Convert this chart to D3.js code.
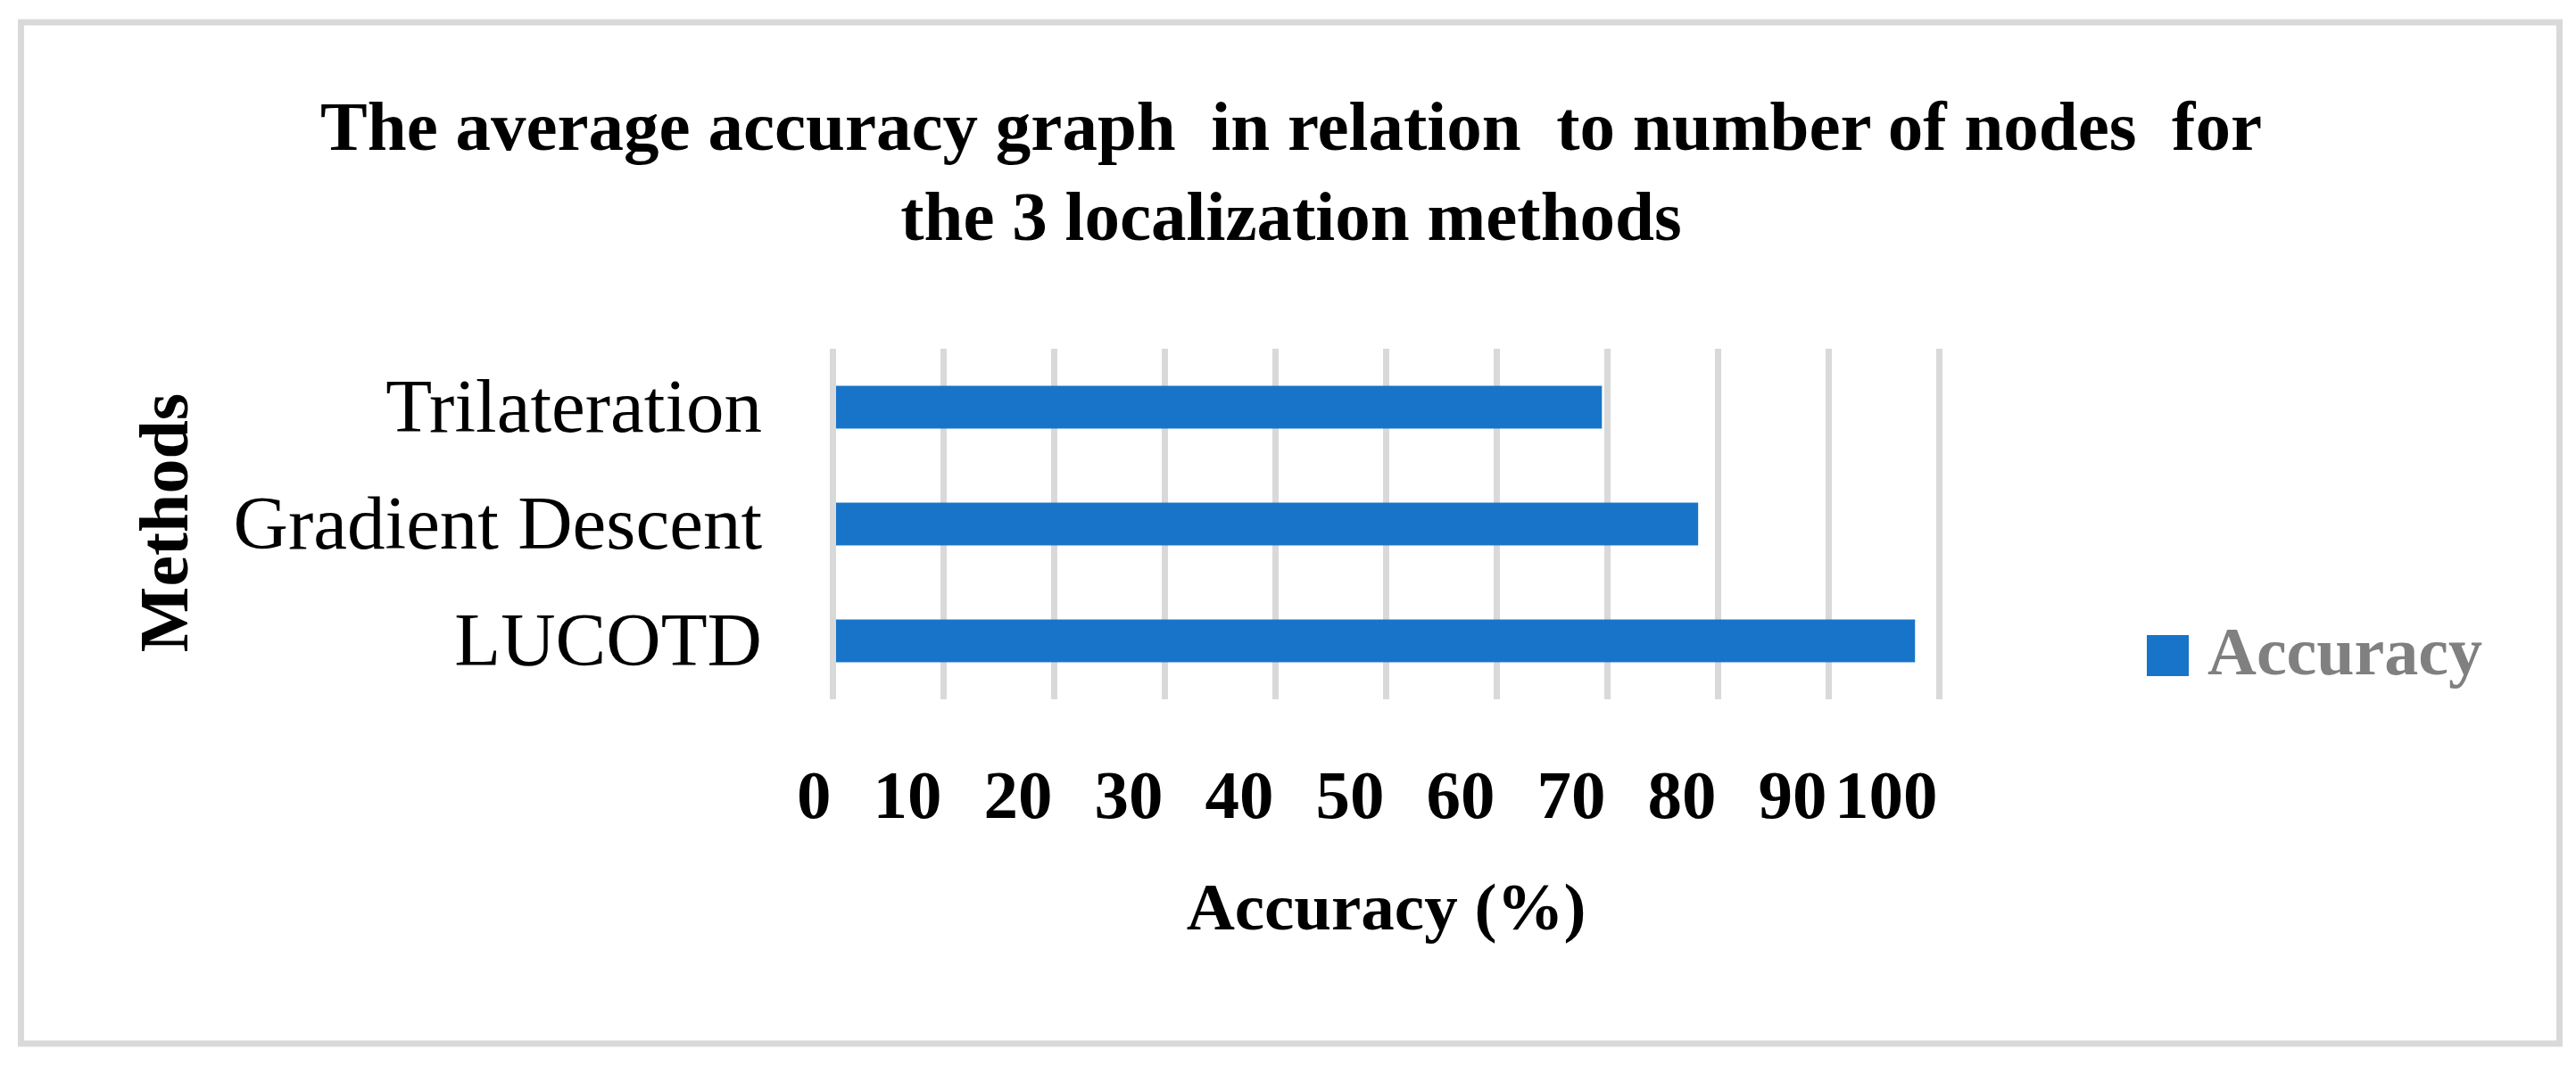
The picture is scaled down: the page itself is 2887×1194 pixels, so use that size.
<!DOCTYPE html>
<html>
<head>
<meta charset="utf-8">
<script src="https://cdn.jsdelivr.net/npm/d3@7"></script>
<style>
  html, body { margin: 0; padding: 0; background: #ffffff; }
  svg { display: block; }
  text { font-family: "Liberation Serif", "Times New Roman", serif; white-space: pre; }
</style>
</head>
<body>
<script>
// ---- Data ----
const categories = ["Trilateration", "Gradient Descent", "LUCOTD"];
const accuracy = [69.5, 78.2, 97.8];
const xTicks = [0, 10, 20, 30, 40, 50, 60, 70, 80, 90, 100];
const xTickLabels = ["0", "10", "20", "30", "40", "50", "60", "70", "80", "90", "100"];
const titleLines = ["The average accuracy graph  in relation  to number of nodes  for", "the 3 localization methods"];
const xAxisTitle = "Accuracy (%)";
const yAxisTitle = "Methods";
const seriesName = "Accuracy";

// ---- Layout ----
const W = 2887, H = 1194;
const barColor = "#1874c9";
const gridColor = "#d9d9d9";

const svg = d3.select("body").append("svg")
  .attr("width", W).attr("height", H);

svg.append("rect")
  .attr("x", 0).attr("y", 0).attr("width", W).attr("height", H)
  .attr("fill", "#ffffff");

// outer border
svg.append("rect")
  .attr("x", 23.5).attr("y", 25).attr("width", 2845).attr("height", 1145)
  .attr("fill", "none").attr("stroke", gridColor).attr("stroke-width", 7);

const plotTop = 391, plotBottom = 784;
const x = d3.scaleLinear().domain([0, 100]).range([933.5, 2173.5]);
const y = d3.scaleBand().domain(categories).range([plotTop, plotBottom])
  .paddingInner(0.634).paddingOuter(0.317);

// gridlines
svg.append("g").selectAll("line").data(xTicks).join("line")
  .attr("x1", d => x(d)).attr("x2", d => x(d))
  .attr("y1", plotTop).attr("y2", plotBottom)
  .attr("stroke", gridColor).attr("stroke-width", 7);

// bars
svg.append("g").selectAll("rect").data(categories).join("rect")
  .attr("x", x(0) + 3.5)
  .attr("y", d => y(d))
  .attr("width", (d, i) => x(accuracy[i]) - x(0) - 3.5)
  .attr("height", y.bandwidth())
  .attr("fill", barColor);

// x tick labels (right-aligned to gridlines, like the original)
svg.append("g").selectAll("text").data(xTicks).join("text")
  .attr("x", d => x(d) - 2)
  .attr("y", 917)
  .attr("text-anchor", "end")
  .attr("font-weight", "bold")
  .attr("font-size", 77)
  .attr("fill", "#000")
  .text((d, i) => xTickLabels[i]);

// category labels
svg.append("g").selectAll("text").data(categories).join("text")
  .attr("x", 854)
  .attr("y", d => y(d) + y.bandwidth() / 2 + 27)
  .attr("text-anchor", "end")
  .attr("font-size", 85)
  .attr("fill", "#000")
  .text(d => d);

// x axis title
svg.append("text")
  .attr("x", (x(0) + x(100)) / 2)
  .attr("y", 1042)
  .attr("text-anchor", "middle")
  .attr("font-weight", "bold")
  .attr("font-size", 75)
  .attr("fill", "#000")
  .text(xAxisTitle);

// y axis title
svg.append("text")
  .attr("transform", "translate(210,586) rotate(-90)")
  .attr("text-anchor", "middle")
  .attr("font-weight", "bold")
  .attr("font-size", 78)
  .attr("fill", "#000")
  .text(yAxisTitle);

// title
svg.append("g").selectAll("text").data(titleLines).join("text")
  .attr("x", 1447)
  .attr("y", (d, i) => 168 + i * 101)
  .attr("text-anchor", "middle")
  .attr("font-weight", "bold")
  .attr("font-size", 79)
  .attr("fill", "#000")
  .text(d => d);

// legend
const legend = svg.append("g");
legend.append("rect")
  .attr("x", 2406).attr("y", 712).attr("width", 47).attr("height", 46)
  .attr("fill", barColor);
legend.append("text")
  .attr("x", 2474).attr("y", 756)
  .attr("font-weight", "bold")
  .attr("font-size", 76)
  .attr("fill", "#808080")
  .text(seriesName);
</script>
</body>
</html>
